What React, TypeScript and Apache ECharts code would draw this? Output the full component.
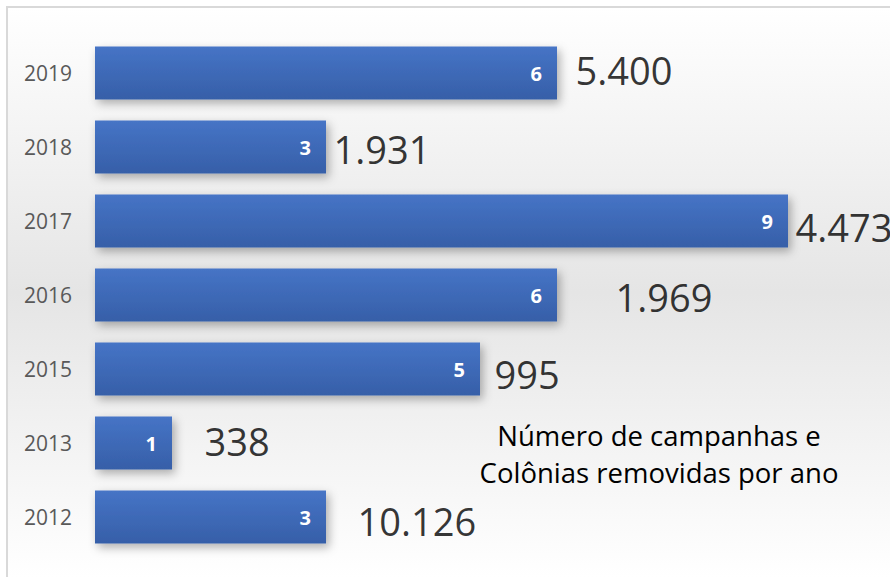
import React, { useEffect, useRef } from "react";
import * as echarts from "echarts";

const years = ["2019", "2018", "2017", "2016", "2015", "2013", "2012"];
const campaigns = [6, 3, 9, 6, 5, 1, 3];
const colonies = ["5.400", "1.931", "4.473", "1.969", "995", "338", "10.126"];
const noteLines = ["Número de campanhas e", "Colônias removidas por ano"];

export default function App() {
  const ref = useRef<HTMLDivElement>(null);
  useEffect(() => {
    if (!ref.current) return;
    const chart = echarts.init(ref.current, undefined, { renderer: "svg" });
    // label placement tweaks (style only)
    const labelShift: [number, number][] = [
      [18, -3],
      [7, 2],
      [7, 6],
      [58, 2],
      [14, 5],
      [32, -2],
      [31, 4],
    ];
    chart.setOption({
      animation: false,
      backgroundColor: new echarts.graphic.LinearGradient(0, 0, 0, 1, [
        { offset: 0, color: "#ffffff" },
        { offset: 0.5, color: "#e5e5e5" },
        { offset: 1, color: "#ffffff" },
      ]),
      grid: { left: 87, right: 102, top: 28, bottom: 23, containLabel: false },
      xAxis: {
        type: "value",
        min: 0,
        max: 9,
        show: false,
      },
      yAxis: {
        type: "category",
        inverse: true,
        data: years,
        axisLine: { show: false },
        axisTick: { show: false },
        axisLabel: {
          margin: 23,
          color: "#595959",
          fontSize: 21,
          fontFamily: "Open Sans",
        },
      },
      series: [
        {
          type: "bar",
          data: campaigns,
          barWidth: 53,
          itemStyle: {
            color: new echarts.graphic.LinearGradient(0, 0, 0, 1, [
              { offset: 0, color: "#4674c6" },
              { offset: 1, color: "#365fa8" },
            ]),
            shadowColor: "rgba(0,0,0,0.3)",
            shadowBlur: 10,
            shadowOffsetX: 3,
            shadowOffsetY: 4,
          },
          label: {
            show: true,
            position: "insideRight",
            distance: 15,
            color: "#ffffff",
            fontWeight: "bold",
            fontSize: 20,
            fontFamily: "Open Sans",
          },
          z: 2,
        },
        {
          type: "scatter",
          symbol: "circle",
          symbolSize: 1,
          itemStyle: { color: "rgba(0,0,0,0)" },
          data: campaigns.map((v, i) => ({
            value: [v, i],
            label: { offset: labelShift[i] },
          })),
          label: {
            show: true,
            position: "right",
            distance: 0,
            formatter: (p: any) => colonies[p.dataIndex],
            color: "#000000",
            fontSize: 38,
            fontFamily: "Open Sans",
          },
          z: 3,
        },
      ],
      graphic: [
        {
          type: "text",
          x: 651,
          y: 446,
          style: {
            text: noteLines.join("\n"),
            textAlign: "center",
            textVerticalAlign: "middle",
            fontSize: 27.5,
            lineHeight: 37,
            fontFamily: "Open Sans",
            fill: "#000000",
          },
        },
      ],
    });
    return () => chart.dispose();
  }, []);
  return (
    <div
      style={{
        position: "absolute",
        left: 6,
        top: 6,
        width: 884,
        height: 571,
        boxSizing: "border-box",
        borderTop: "2px solid #d9d9d9",
        borderLeft: "2px solid #d9d9d9",
      }}
    >
      <div ref={ref} style={{ width: 882, height: 569 }} />
    </div>
  );
}
